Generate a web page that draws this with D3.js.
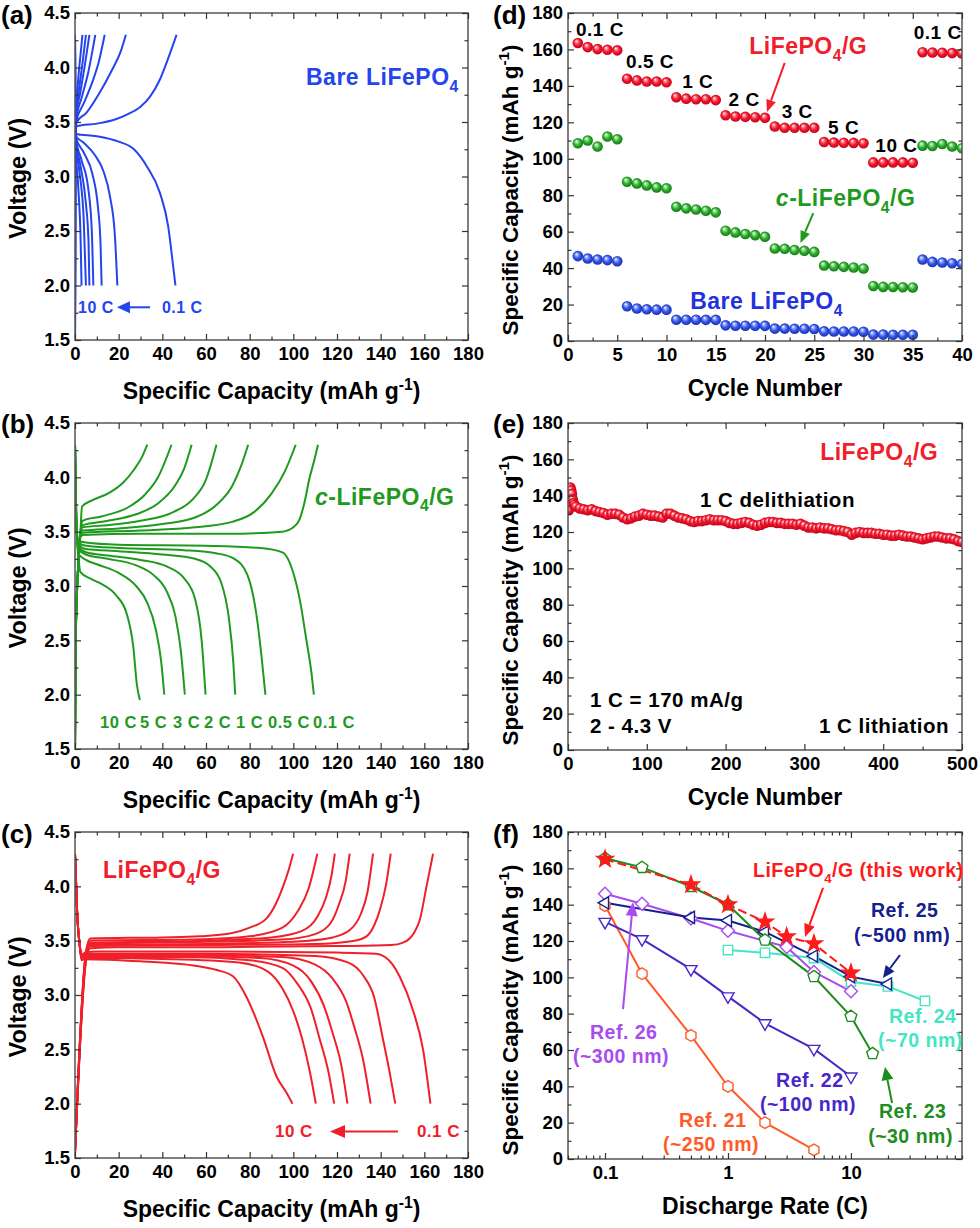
<!DOCTYPE html>
<html><head><meta charset="utf-8">
<script src="https://cdnjs.cloudflare.com/ajax/libs/d3/7.8.5/d3.min.js"></script>
<style>
html,body{margin:0;padding:0;background:#fff;}
svg text{font-family:"Liberation Sans",Arial,Helvetica,sans-serif;font-weight:bold;}
</style></head><body>
<svg id="fig" width="980" height="1228" xmlns="http://www.w3.org/2000/svg"></svg>
<script>
// ================= DATA =================
const rateLabels = ["0.1 C","0.5 C","1 C","2 C","3 C","5 C","10 C"];

// (a) Bare LiFePO4  [capacity mAh/g, voltage V], rates 0.1,0.5,1,2,3,5,10 C
const bareCharge = [
 [[0,1.5],[0.15,3.3],[0.8,3.46],[10,3.485],[18,3.52],[24,3.57],[30,3.64],[34.3,3.73],[38.9,3.89],[43.5,4.13],[46.5,4.3]],
 [[0,1.5],[0.15,3.3],[0.8,3.5],[5,3.58],[11,3.76],[17,3.98],[21,4.15],[23.3,4.3]],
 [[0,1.5],[0.15,3.3],[0.6,3.51],[4,3.67],[8,3.87],[11,4.06],[13.6,4.3]],
 [[0,1.5],[0.15,3.3],[0.5,3.52],[3,3.72],[6,3.95],[9.3,4.3]],
 [[0,1.5],[0.15,3.3],[0.5,3.53],[2.5,3.78],[4.5,4.02],[6.6,4.3]],
 [[0,1.5],[0.15,3.3],[0.5,3.54],[2,3.82],[3.5,4.05],[5,4.3]],
 [[0,1.5],[0.15,3.3],[0.5,3.56],[1.5,3.9],[2.7,4.15],[3.4,4.3]]
];
const bareDischarge = [
 [[0,4.3],[0.1,3.6],[0.5,3.39],[10,3.37],[20,3.32],[27,3.25],[33,3.09],[38.9,2.85],[42.7,2.54],[45,2.17],[46,2.0]],
 [[0,4.3],[0.1,3.6],[0.5,3.37],[4,3.31],[9,3.2],[13,3.05],[16,2.82],[18.3,2.45],[19.4,2.0]],
 [[0,4.3],[0.1,3.6],[0.4,3.36],[4,3.22],[8,3.02],[10.5,2.72],[11.7,2.38],[12.2,2.0]],
 [[0,4.3],[0.1,3.6],[0.4,3.35],[3,3.15],[6,2.9],[7.7,2.5],[8.4,2.0]],
 [[0,4.3],[0.1,3.6],[0.4,3.34],[2.5,3.1],[5,2.75],[6.2,2.4],[6.6,2.0]],
 [[0,4.3],[0.1,3.6],[0.4,3.33],[2,3.05],[4,2.6],[5,2.0]],
 [[0,4.3],[0.1,3.6],[0.3,3.3],[1.5,2.9],[2.6,2.4],[3,2.0]]
];

// (b) c-LiFePO4/G
const cCharge = [
 [[0,1.5],[0.3,2.5],[1.5,3.2],[2.5,3.45],[3.5,3.47],[30,3.48],[70,3.48],[95,3.5],[100,3.54],[103,3.62],[105,3.76],[107.5,4.0],[109.5,4.15],[111.3,4.3]],
 [[0,1.5],[0.3,2.5],[1.5,3.2],[2.5,3.46],[3.5,3.49],[30,3.51],[55,3.54],[72,3.59],[82,3.68],[90,3.85],[96,4.05],[101.1,4.3]],
 [[0,1.5],[0.3,2.5],[1.5,3.2],[2.5,3.47],[3.5,3.51],[20,3.53],[40,3.57],[55,3.63],[65,3.75],[72,3.92],[76,4.1],[79.3,4.3]],
 [[0,1.5],[0.3,2.5],[1.5,3.2],[2.5,3.48],[3.5,3.54],[15,3.56],[30,3.6],[45,3.68],[54,3.8],[60,3.98],[64.8,4.3]],
 [[0,1.5],[0.3,2.5],[1.5,3.2],[2.5,3.49],[3.5,3.56],[15,3.6],[28,3.66],[38,3.76],[46,3.93],[50,4.08],[53.4,4.3]],
 [[0,1.5],[0.3,2.5],[1.5,3.2],[2.5,3.5],[3.5,3.6],[12,3.64],[24,3.72],[32,3.84],[38,4.0],[44.2,4.3]],
 [[0,1.5],[0.3,2.5],[1.5,3.2],[2.5,3.5],[3.2,3.73],[8,3.79],[15,3.85],[22,3.95],[27,4.07],[31,4.2],[33.1,4.3]]
];
const cDischarge = [
 [[0,4.3],[0.6,3.6],[1.5,3.42],[5,3.4],[20,3.38],[60,3.37],[85,3.35],[95,3.31],[100,3.12],[103,2.87],[106,2.5],[108.3,2.2],[109.4,2.0]],
 [[0,4.3],[0.6,3.6],[1.5,3.4],[5,3.37],[20,3.35],[50,3.33],[65,3.3],[73,3.25],[79,3.1],[83,2.75],[85.7,2.3],[87.2,2.0]],
 [[0,4.3],[0.6,3.6],[1.5,3.38],[5,3.34],[20,3.32],[40,3.29],[55,3.25],[62,3.18],[67,3.03],[70.5,2.7],[72.5,2.3],[73.4,2.0]],
 [[0,4.3],[0.6,3.6],[1.5,3.36],[5,3.31],[15,3.28],[30,3.24],[42,3.18],[50,3.07],[55,2.88],[58,2.5],[59.8,2.0]],
 [[0,4.3],[0.6,3.6],[1.5,3.34],[5,3.29],[15,3.25],[28,3.19],[36,3.1],[42,2.95],[46,2.72],[48.5,2.4],[50.3,2.0]],
 [[0,4.3],[0.6,3.6],[1.5,3.3],[5,3.24],[10,3.2],[20,3.12],[28,3.0],[33,2.85],[37,2.6],[39.5,2.3],[40.9,2.0]],
 [[0,4.3],[0.6,3.6],[1.5,3.3],[2.4,3.13],[6.9,3.07],[11,3.03],[19,2.91],[23.6,2.75],[26.7,2.44],[28.3,2.1],[29.7,1.95]]
];

// (c) LiFePO4/G
const gCharge = [
 [[0,1.55],[5,3.3],[7,3.43],[20,3.44],[60,3.44],[120,3.45],[145,3.46],[150,3.48],[153.3,3.52],[155.5,3.58],[157.9,3.69],[161,4.0],[164,4.3]],
 [[0,1.55],[5,3.32],[7,3.45],[60,3.46],[110,3.47],[128,3.5],[133.5,3.54],[137,3.64],[139.6,3.78],[142.6,4.03],[144.6,4.3]],
 [[0,1.55],[5,3.34],[7,3.46],[60,3.47],[100,3.49],[118,3.53],[126,3.6],[131,3.75],[134,3.95],[136.5,4.3]],
 [[0,1.55],[5,3.36],[7,3.47],[60,3.49],[95,3.51],[110,3.56],[117,3.66],[121,3.84],[124,4.05],[125.8,4.3]],
 [[0,1.55],[5,3.37],[7,3.48],[60,3.5],[90,3.53],[104,3.59],[111,3.72],[115,3.9],[117.5,4.1],[119,4.3]],
 [[0,1.55],[5,3.38],[7,3.5],[55,3.51],[80,3.54],[95,3.62],[102,3.77],[107,3.98],[111,4.3]],
 [[0,1.55],[5,3.4],[7,3.52],[40,3.53],[57,3.54],[72,3.57],[80,3.62],[87.5,3.7],[92,3.84],[95.3,4.0],[98,4.16],[99.9,4.3]]
];
const gDischarge = [
 [[0,4.3],[1,3.75],[2.2,3.45],[3,3.37],[4.5,3.39],[10,3.4],[60,3.4],[120,3.39],[138,3.38],[142,3.35],[145.5,3.28],[148.7,3.17],[154.8,2.86],[159.4,2.5],[162.8,2.0]],
 [[0,4.3],[1,3.75],[2.2,3.45],[3,3.36],[4.5,3.38],[60,3.38],[110,3.36],[125,3.3],[132,3.18],[137,2.98],[141,2.6],[144,2.3],[146.7,2.0]],
 [[0,4.3],[1,3.75],[2.2,3.45],[3,3.36],[4.5,3.37],[50,3.37],[95,3.35],[110,3.28],[118,3.15],[124,2.95],[128,2.7],[132,2.4],[135.4,2.0]],
 [[0,4.3],[1,3.75],[2.2,3.45],[3,3.35],[4.5,3.36],[50,3.36],[85,3.34],[100,3.27],[108,3.13],[114,2.9],[118,2.65],[122,2.35],[124.8,2.0]],
 [[0,4.3],[1,3.75],[2.2,3.45],[3,3.34],[4.5,3.35],[50,3.35],[80,3.32],[95,3.25],[102,3.1],[108,2.88],[112,2.6],[116,2.3],[118.7,2.0]],
 [[0,4.3],[1,3.75],[2.2,3.45],[3,3.33],[4.5,3.34],[45,3.33],[75,3.3],[88,3.22],[95,3.06],[100,2.85],[104,2.6],[107.5,2.3],[110.3,2.0]],
 [[0,4.3],[1,3.75],[2.2,3.45],[3,3.32],[4.5,3.33],[30,3.31],[55,3.27],[65,3.23],[72.5,3.17],[78.6,2.98],[86,2.62],[92.3,2.25],[96.9,2.1],[99.6,2.0]]
];

// (d) rate performance
const dCycles = [1,2,3,4,5,6,7,8,9,10,11,12,13,14,15,16,17,18,19,20,21,22,23,24,25,26,27,28,29,30,31,32,33,34,35,36,37,38,39,40];
const dLFPG = [163.5,161.3,160.2,159.8,159.5, 143.9,143,142.4,142.4,142, 133.8,133,132.7,132.7,132.2, 123.9,123.2,123,122.8,122.5, 117.7,117,117,117,117, 109.2,108.9,108.8,108.7,108.5, 98,98,98,98,97.8, 158.5,158.3,158.2,158,157.8];
const dCLFPG = [108.5,110,106.7,112.2,110.7, 87.4,86.5,85.4,84.3,83.8, 73.7,72.8,72.2,71.5,70.6, 60.5,59.6,58.7,58.1,57.2, 50.8,50.6,49.9,49.5,48.9, 41.4,41,40.7,40.3,39.8, 30.2,29.7,29.6,29.5,29.4, 107.2,107,108.1,106.7,105.8];
const dBare = [46.6,45.3,44.7,44.4,43.8, 19.1,17.8,17.4,17.2,17.2, 11.7,11.7,11.7,11.6,11.6, 8.6,8.4,8.4,8.4,8.3, 6.8,6.8,6.7,6.7,6.6, 5.3,5.2,5.2,5.2,5.1, 3.5,3.5,3.4,3.4,3.4, 44.7,43.4,43.1,42.7,42.2];
const dRateTags = ["0.1 C","0.5 C","1 C","2 C","3 C","5 C","10 C","0.1 C"];

// (e) cycling at 1 C
const eCycles = [1,2,3,4,5,6,7,8,10,
 15,20,25,30,35,40,45,50,55,60, 65,70,75,80,85,90,95,100,105,110,
 115,120,125,130,135,140,145,150,155,160, 165,170,175,180,185,190,195,200,205,210,
 215,220,225,230,235,240,245,250,255,260, 265,270,275,280,285,290,295,300,305,310,
 315,320,325,330,335,340,345,350,355,360, 365,370,375,380,385,390,395,400,405,410,
 415,420,425,430,435,440,445,450,455,460, 465,470,475,480,485,490,495,500];
const eCapacity = [132,144,144.5,143,141,138,136,135,134,
 133,132.5,132,132.5,131.5,131,130.5,129.5,130,130, 129.5,128,127,127.5,128.5,129,130,129.5,129,129,
 128.5,128,130,130,129,128,127.5,127,126,125.5, 126,126,126.5,127,126.5,126.5,126.5,126,125,124.5,
 124.5,125,125.5,125,124,123.5,124,125,125.5,125.5, 125,125,124.5,124.5,124.5,124,124.5,123.5,122.5,122.5,
 122,122.5,122,122,121.5,121,121,120.5,120,118.5, 119.5,120,119.5,119.5,119.5,119,119,118.5,118.5,118,
 118,118.5,118,117.5,117.5,117,116.5,116,116.5,117, 117.5,117.5,117,116.5,116.5,116,115,114.5];

// (f) comparison (Discharge rate C, capacity mAh/g)
const fRef21Rate = [0.1,0.2,0.5,1,2,5];            const fRef21Cap = [139.5,102,68,40,20,5];
const fRef22Rate = [0.1,0.2,0.5,1,2,5,10];         const fRef22Cap = [130.5,121,104.5,89.5,74.7,60.6,45.4];
const fRef23Rate = [0.1,0.2,0.5,1,2,5,10,15];      const fRef23Cap = [165.5,160.5,150,140,120.5,100.4,78.5,58];
const fRef24Rate = [1,2,5,10,20,40];               const fRef24Cap = [115,113.5,110.6,97.6,95,87];
const fRef25Rate = [0.1,0.5,1,2,5,10,20];          const fRef25Cap = [141,133,131.3,125,111.7,100.4,96.3];
const fRef26Rate = [0.1,0.2,0.5,1,3,5,10];         const fRef26Cap = [146,140.5,132.4,125.6,116.7,103,92.3];
const fThisRate  = [0.1,0.5,1,2,3,5,10];           const fThisCap  = [165,151,140,130.5,122.4,118.5,102.4];

// ================= DRAWING =================
const svg = d3.select("#fig");
const defs = svg.append("defs");
let clipN = 0;

const BLUE = "#2444ee", GREEN = "#1f9a1f", RED = "#f0202a";

function grad(id, c0, c1, c2){
  const g = defs.append("radialGradient").attr("id",id).attr("cx","50%").attr("cy","50%").attr("r","55%").attr("fx","35%").attr("fy","30%");
  g.append("stop").attr("offset","0%").attr("stop-color","#ffffff");
  g.append("stop").attr("offset","22%").attr("stop-color",c0);
  g.append("stop").attr("offset","55%").attr("stop-color",c1);
  g.append("stop").attr("offset","100%").attr("stop-color",c2);
}
grad("gRed","#ff8c96","#f2182e","#b80018");
grad("gGreen","#9de29d","#2cae2c","#0f700f");
grad("gBlue","#9fb0ff","#3456ec","#142a9e");

function panel(box, x, y){
  const g = svg.append("g");
  const cid = "clip"+(++clipN);
  defs.append("clipPath").attr("id",cid).append("rect")
    .attr("x",box.l).attr("y",box.t).attr("width",box.r-box.l).attr("height",box.b-box.t);
  const plot = g.append("g").attr("clip-path",`url(#${cid})`);
  return {g, plot, box, x, y};
}

function axes(p, o){
  const {l,r,t,b} = p.box;
  const ag = p.g.append("g");
  ag.append("rect").attr("x",l).attr("y",t).attr("width",r-l).attr("height",b-t)
    .attr("fill","none").attr("stroke","#555").attr("stroke-width",1.5);
  const mk = (axis, tr, vals, size, fmt, pad) => {
    axis.tickValues(vals).tickSize(size).tickPadding(pad||6).tickFormat(fmt || (()=>""));
    const s = ag.append("g").attr("transform",tr).call(axis);
    s.select(".domain").remove();
    s.attr("font-family",null).attr("font-size",18.5);
    s.selectAll("line").attr("stroke","#333").attr("stroke-width",1.2);
    s.selectAll("text").attr("fill","#000");
    return s;
  };
  mk(d3.axisBottom(p.x), `translate(0,${b})`, o.xMajor, -6, o.xFmt, 7);
  mk(d3.axisBottom(p.x), `translate(0,${b})`, o.xMinor, -3.5);
  mk(d3.axisTop(p.x), `translate(0,${t})`, o.xMajor, -6);
  mk(d3.axisTop(p.x), `translate(0,${t})`, o.xMinor, -3.5);
  mk(d3.axisLeft(p.y), `translate(${l},0)`, o.yMajor, -6, o.yFmt, 5);
  mk(d3.axisLeft(p.y), `translate(${l},0)`, o.yMinor, -3.5);
  mk(d3.axisRight(p.y), `translate(${r},0)`, o.yMajor, -6);
  mk(d3.axisRight(p.y), `translate(${r},0)`, o.yMinor, -3.5);
  const xt = p.g.append("text").attr("x",(l+r)/2).attr("y",b+o.xTitleDy).attr("text-anchor","middle")
    .attr("font-size",o.xTitleSize||23);
  rich(xt, o.xTitle, o.xTitleSize||23);
  const yt = p.g.append("text").attr("transform",`translate(${o.yTitleX},${o.yTitleY}) rotate(-90)`)
    .attr("text-anchor","middle").attr("font-size",o.yTitleSize||23);
  rich(yt, o.yTitle, o.yTitleSize||23);
  p.g.append("text").attr("x",o.tagX).attr("y",o.tagY).attr("font-size",26).text(o.tag);
}

function rich(sel, parts, fs){
  let shift = 0;
  parts.forEach(pt => {
    const [s,k] = typeof pt === "string" ? [pt,""] : pt;
    const ts = sel.append("tspan").text(s);
    const target = k==="sub" ? fs*0.3 : k==="sup" ? -fs*0.4 : 0;
    if (target !== shift){ ts.attr("dy", target-shift); shift = target; }
    if (k==="sub"||k==="sup") ts.attr("font-size", fs*0.68);
    if (k==="it") ts.attr("font-style","italic");
  });
}
function label(p, dx, dy, parts, fs, color, anchor){
  const t = p.g.append("text").attr("x",p.x(dx)).attr("y",p.y(dy)).attr("font-size",fs)
    .attr("fill",color).attr("text-anchor",anchor||"start").attr("letter-spacing",0.5);
  rich(t, typeof parts === "string" ? [parts] : parts, fs);
  return t;
}
function arrow(p, a, b, color, hl, hw, sw){
  const x1=p.x(a[0]), y1=p.y(a[1]), x2=p.x(b[0]), y2=p.y(b[1]);
  const ang = Math.atan2(y2-y1, x2-x1);
  const bx = x2-hl*Math.cos(ang), by = y2-hl*Math.sin(ang);
  p.g.append("line").attr("x1",x1).attr("y1",y1).attr("x2",bx).attr("y2",by)
    .attr("stroke",color).attr("stroke-width",sw||2);
  const px = -Math.sin(ang)*hw/2, py = Math.cos(ang)*hw/2;
  p.g.append("path").attr("d",`M${x2},${y2}L${bx+px},${by+py}L${bx-px},${by-py}Z`).attr("fill",color);
}

const capTitle = ["Specific Capacity (mAh g",["-1","sup"],")"];
const LFP = ["LiFePO",["4","sub"],"/G"];

// ---------- voltage profile panels ----------
function voltPanel(box, charge, discharge, color, tag, tagY){
  const x = d3.scaleLinear().domain([0,180]).range([box.l, box.r]);
  const y = d3.scaleLinear().domain([1.5,4.5]).range([box.b, box.t]);
  const p = panel(box, x, y);
  const line = d3.line().x(d=>x(d[0])).y(d=>y(d[1])).curve(d3.curveMonotoneX);
  p.plot.selectAll("path.c").data(charge.concat(discharge)).join("path")
    .attr("d", line).attr("fill","none").attr("stroke",color).attr("stroke-width",2);
  axes(p, {
    xMajor: d3.range(0,181,20), xMinor: d3.range(10,180,20), xFmt: d3.format("d"),
    yMajor: [1.5,2.0,2.5,3.0,3.5,4.0,4.5], yMinor: [1.75,2.25,2.75,3.25,3.75,4.25], yFmt: d3.format(".1f"),
    xTitle: capTitle, xTitleDy: 59, xTitleSize: 23,
    yTitle: ["Voltage (V)"], yTitleX: 26, yTitleY: (box.t+box.b)/2+2, yTitleSize: 23.5,
    tag: tag, tagX: 1, tagY: tagY
  });
  return p;
}

// (a)
const pa = voltPanel({l:75,r:468,t:13,b:340}, bareCharge, bareDischarge, BLUE, "(a)", 24);
label(pa, 105.8, 3.84, ["Bare LiFePO",["4","sub"]], 23, BLUE);
label(pa, 1.4, 1.75, "10 C", 16, BLUE);
arrow(pa, [34.4,1.8], [19.2,1.8], BLUE, 13, 12, 2);
label(pa, 39.8, 1.75, "0.1 C", 16, BLUE);

// (b)
const pb = voltPanel({l:75,r:468,t:423,b:749}, cCharge, cDischarge, GREEN, "(b)", 433);
label(pb, 109.9, 3.75, [["c","it"],"-"].concat(LFP), 23, GREEN);
const bTagX = [11.5,29.8,44.9,59.1,73.7,88.4,109];
const bTags = ["10 C","5 C","3 C","2 C","1 C","0.5 C","0.1 C"];
bTags.forEach((s,i)=>label(pb, bTagX[i], 1.69, s, 16.5, GREEN));

// (c)
const pc = voltPanel({l:75,r:468,t:832,b:1158}, gCharge, gDischarge, RED, "(c)", 843);
label(pc, 12.8, 4.08, LFP, 23, RED);
label(pc, 91.6, 1.69, "10 C", 17, RED);
arrow(pc, [147.9,1.745], [116.8,1.745], RED, 15, 13, 2);
label(pc, 156.6, 1.69, "0.1 C", 17, RED);

// ---------- (d) ----------
{
  const box = {l:568,r:962,t:13,b:341};
  const x = d3.scaleLinear().domain([0,40]).range([box.l,box.r]);
  const y = d3.scaleLinear().domain([0,180]).range([box.b,box.t]);
  const p = panel(box,x,y);
  const series = [[dBare,"url(#gBlue)"],[dCLFPG,"url(#gGreen)"],[dLFPG,"url(#gRed)"]];
  series.forEach(([vals,fill])=>{
    p.plot.append("g").selectAll("circle").data(vals).join("circle")
      .attr("cx",(d,i)=>x(dCycles[i])).attr("cy",d=>y(d)).attr("r",5.3).attr("fill",fill);
  });
  axes(p,{
    xMajor:d3.range(0,41,5), xMinor:d3.range(2.5,40,5), xFmt:d3.format("d"),
    yMajor:d3.range(0,181,20), yMinor:d3.range(10,180,20), yFmt:d3.format("d"),
    xTitle:["Cycle Number"], xTitleDy:55,
    yTitle:capTitle, yTitleX:518, yTitleY:190, yTitleSize:22.5,
    tag:"(d)", tagX:493, tagY:24
  });
  const tagPos = [[0.81,167.4],[5.9,149.8],[11.6,138.8],[16.3,129],[21.7,122.4],[26.4,113.6],[31.2,103.7],[35.1,165.7]];
  dRateTags.forEach((s,i)=>label(p, tagPos[i][0], tagPos[i][1], s, 19, "#000"));
  label(p, 18.4, 157.5, LFP, 23, RED);
  arrow(p, [22.0,152.6], [20.2,125.7], RED, 12, 10, 2);
  label(p, 21.1, 74.1, [["c","it"],"-"].concat(LFP), 23, GREEN);
  arrow(p, [24.9,70.2], [23.6,53.8], GREEN, 12, 10, 2);
  label(p, 12.4, 17.6, ["Bare LiFePO",["4","sub"]], 23, "#2233dd");
}

// ---------- (e) ----------
{
  const box = {l:568,r:962,t:423,b:750};
  const x = d3.scaleLinear().domain([0,500]).range([box.l,box.r]);
  const y = d3.scaleLinear().domain([0,180]).range([box.b,box.t]);
  const p = panel(box,x,y);
  p.plot.append("g").selectAll("circle").data(eCapacity).join("circle")
    .attr("cx",(d,i)=>x(eCycles[i])).attr("cy",d=>y(d)).attr("r",5.3)
    .attr("fill","url(#gRed)");
  axes(p,{
    xMajor:d3.range(0,501,100), xMinor:d3.range(50,500,100), xFmt:d3.format("d"),
    yMajor:d3.range(0,181,20), yMinor:d3.range(10,180,20), yFmt:d3.format("d"),
    xTitle:["Cycle Number"], xTitleDy:55,
    yTitle:capTitle, yTitleX:518, yTitleY:600, yTitleSize:22.5,
    tag:"(e)", tagX:493, tagY:433
  });
  label(p, 320, 159.6, LFP, 23, RED);
  label(p, 167.5, 133.7, "1 C delithiation", 20.5, "#000");
  label(p, 27.9, 23.7, "1 C = 170 mA/g", 20.5, "#000");
  label(p, 27.9, 9.4, "2 - 4.3 V", 20.5, "#000");
  label(p, 483.5, 9.4, "1 C lithiation", 20.5, "#000", "end");
}

// ---------- (f) ----------
{
  const box = {l:568,r:962,t:832,b:1159};
  const x = d3.scaleLog().domain([0.05,80]).range([box.l,box.r]);
  const y = d3.scaleLinear().domain([0,180]).range([box.b,box.t]);
  const p = panel(box,x,y);
  function poly(n, r, rot){
    const pts=[];
    for(let i=0;i<n;i++){const a=rot+i*2*Math.PI/n; pts.push([r*Math.sin(a),-r*Math.cos(a)]);}
    return "M"+pts.map(q=>q[0].toFixed(2)+","+q[1].toFixed(2)).join("L")+"Z";
  }
  const shapes = {
    hex: poly(6,5.8,0), down: poly(3,7,Math.PI), pent: poly(5,6.2,0),
    sq: poly(4,6.6,Math.PI/4), left: poly(3,7,-Math.PI/2), dia: poly(4,6.5,0),
    star: d3.symbol(d3.symbolStar, 85)()
  };
  const series = [
    {r:fRef21Rate,c:fRef21Cap,col:"#ff5a28",m:"hex"},
    {r:fRef22Rate,c:fRef22Cap,col:"#4a26c8",m:"down"},
    {r:fRef24Rate,c:fRef24Cap,col:"#44e6c2",m:"sq"},
    {r:fRef26Rate,c:fRef26Cap,col:"#a84cf0",m:"dia"},
    {r:fRef25Rate,c:fRef25Cap,col:"#14208c",m:"left"},
    {r:fRef23Rate,c:fRef23Cap,col:"#1e8c1e",m:"pent"},
    {r:fThisRate,c:fThisCap,col:"#ff1a1a",m:"star",dash:"9,4",fill:"#ff1a1a"}
  ];
  const line = d3.line().x(d=>x(d[0])).y(d=>y(d[1]));
  series.forEach(s=>{
    const pts = s.r.map((v,i)=>[v,s.c[i]]);
    p.plot.append("path").attr("d",line(pts)).attr("fill","none").attr("stroke",s.col)
      .attr("stroke-width",2).attr("stroke-dasharray",s.dash||null);
  });
  series.forEach(s=>{
    const pts = s.r.map((v,i)=>[v,s.c[i]]);
    p.plot.append("g").selectAll("path").data(pts).join("path")
      .attr("d",shapes[s.m]).attr("transform",d=>`translate(${x(d[0])},${y(d[1])})`)
      .attr("fill",s.fill||"#fff").attr("stroke",s.col).attr("stroke-width",1.4);
  });
  const minor = [];
  [0.01,0.1,1,10].forEach(dec=>{for(let k=2;k<=9;k++){const v=k*dec; if(v>=0.05&&v<=80) minor.push(v);}});
  axes(p,{
    xMajor:[0.1,1,10], xMinor:minor, xFmt:d=>String(d),
    yMajor:d3.range(0,181,20), yMinor:d3.range(10,180,20), yFmt:d3.format("d"),
    xTitle:["Discharge Rate (C)"], xTitleDy:55,
    yTitle:capTitle, yTitleX:518, yTitleY:1010, yTitleSize:22.5,
    tag:"(f)", tagX:493, tagY:843
  });
  label(p, 1.597, 155.2, LFP.concat([" (this work)"]), 19.5, "#ff1a1a");
  arrow(p, [5.93,149.2], [4.23,122.2], "#ff1a1a", 13, 11, 2);
  label(p, 14.55, 133.2, "Ref. 25", 19.5, "#14208c");
  label(p, 10.6, 119.5, "(~500 nm)", 19.5, "#14208c");
  arrow(p, [25.05,112.3], [18.2,99.7], "#14208c", 12, 11, 2);
  label(p, 20.4, 74.9, "Ref. 24", 19.5, "#44e6c2");
  label(p, 16.6, 61.7, "(~70 nm)", 19.5, "#44e6c2");
  label(p, 0.0755, 66.1, "Ref. 26", 19.5, "#a84cf0");
  label(p, 0.0549, 52.9, "(~300 nm)", 19.5, "#a84cf0");
  arrow(p, [0.140,82.5], [0.169,141.5], "#a84cf0", 14, 12, 2);
  label(p, 2.46, 39.6, "Ref. 22", 19.5, "#4a26c8");
  label(p, 1.82, 26.4, "(~100 nm)", 19.5, "#4a26c8");
  label(p, 0.40, 17.6, "Ref. 21", 19.5, "#ff5a28");
  label(p, 0.296, 4.4, "(~250 nm)", 19.5, "#ff5a28");
  label(p, 16.9, 22.6, "Ref. 23", 19.5, "#1e8c1e");
  label(p, 13.8, 8.8, "(~30 nm)", 19.5, "#1e8c1e");
  arrow(p, [21.6,30.8], [18.9,50.6], "#1e8c1e", 13, 12, 2);
}
</script>
</body></html>
